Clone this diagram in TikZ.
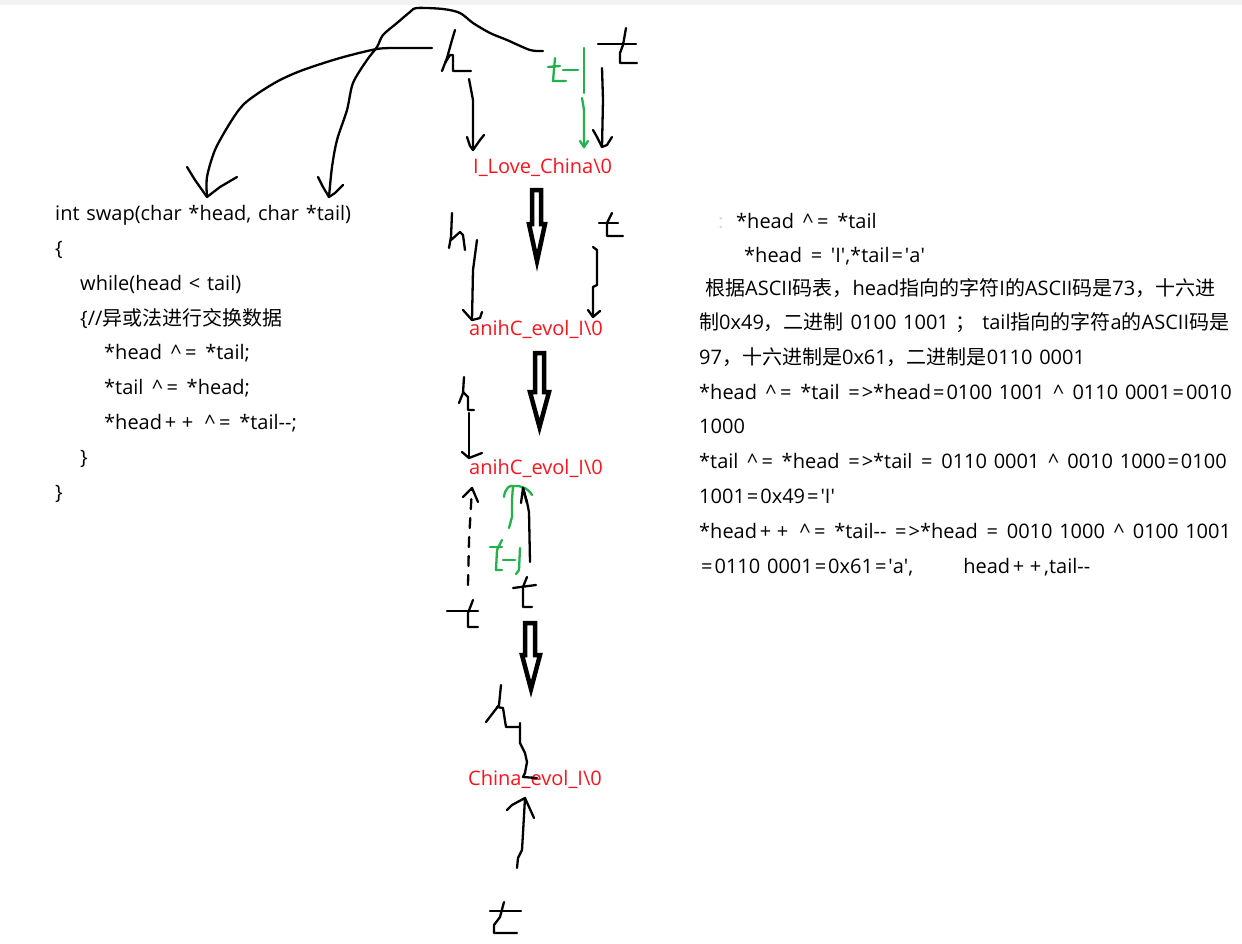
\documentclass[tikz,border=0pt]{standalone}
\usepackage{fontspec}
\setmainfont{Open Sans}
\newfontfamily\cjk{Noto Sans CJK SC}
\definecolor{pgreen}{RGB}{34,177,76}
\definecolor{pred}{RGB}{250,20,30}
\newcommand\q{\textquotesingle}
\newcommand\ca{\makebox[14.4pt][c]{\textasciicircum}}
\newcommand\eq{\makebox[15.4pt][c]{=}}
\newcommand\pl{\makebox[17pt][c]{+}}
\newcommand\txtfont{\fontsize{20}{24}\selectfont\spaceskip 6.7pt\relax}
\begin{document}
\begin{tikzpicture}[x=1pt,y=-1pt,
  hand/.style={line width=2.3pt,line join=round,line cap=round},
  bigarr/.style={line width=4.5pt,line join=miter,fill=white},
  txt/.style={anchor=base west,inner sep=0pt,font=\txtfont},
  lbl/.style={txt,text=pred}]
\useasboundingbox (0,0) rectangle (1242,943);
\fill[gray!10] (0,0) rectangle (1242,5);

% ---- code text
\node[txt] (c1) at (55,220) {int swap(char *head, char *tail)};
\node[txt] (c2) at (55,255) {\{};
\node[txt] (c3) at (80,290) {while(head < tail)};
\node[txt] (c4) at (80,325) {\{//{\cjk 异或法进行交换数据}};
\node[txt] (c5) at (104,359) {*head \ca\eq{} *tail;};
\node[txt] (c6) at (104,394) {*tail \ca\eq{} *head;};
\node[txt] (c7) at (104,429) {*head\pl\pl{} \ca\eq{} *tail-{}-;};
\node[txt] (c8) at (80,464) {\}};
\node[txt] (c9) at (55,499) {\}};

% ---- red labels
\node[lbl] (s1) at (473,173) {I\_Love\_China\textbackslash 0};
\node[lbl] (s2) at (469,335) {anihC\_evol\_I\textbackslash 0};
\node[lbl] (s3) at (469,474) {anihC\_evol\_I\textbackslash 0};
\node[lbl] (s4) at (468,785) {China\_evol\_I\textbackslash 0};

% ---- right text
\node[txt,text=gray!30] (r0) at (718,228) {:};
\node[txt] (r1) at (736,228) {*head \ca\eq{} *tail};
\node[txt] (r2) at (744,262) {*head \eq{} \q I\q,*tail\eq\q a\q};
\node[txt] (r3) at (705,295) {{\cjk 根据}ASCII{\cjk 码表，}head{\cjk 指向的字符}I{\cjk 的}ASCII{\cjk 码是}73{\cjk ，十六进}};
\node[txt] (r4) at (699,329) {{\cjk 制}0x49{\cjk ，二进制} 0100 1001 {\cjk ；} tail{\cjk 指向的字符}a{\cjk 的}ASCII{\cjk 码是}};
\node[txt] (r5) at (699,364) {97{\cjk ，十六进制是}0x61{\cjk ，二进制是}0110 0001};
\node[txt] (r6) at (699,399) {*head \ca\eq{} *tail \eq>*head\eq 0100 1001 \ca{} 0110 0001\eq 0010};
\node[txt] (r7) at (699,433) {1000};
\node[txt] (r8) at (699,468) {*tail \ca\eq{} *head \eq>*tail \eq{} 0110 0001 \ca{} 0010 1000\eq 0100};
\node[txt] (r9) at (699,503) {1001\eq 0x49\eq\q I\q};
\node[txt] (r10) at (699,538) {*head\pl\pl{} \ca\eq{} *tail-{}- \eq>*head \eq{} 0010 1000 \ca{} 0100 1001};
\node[txt] (r11) at (699,573) {\eq 0110 0001\eq 0x61\eq\q a\q,\hspace{50pt}head\pl\pl,tail-{}-};

% ---- big hollow arrows
\draw[bigarr] (532,190) -- (532,224) -- (529,224) -- (537,261) -- (545,224) -- (541,224) -- (541,190) -- cycle;
\draw[bigarr] (535,353) -- (535,392) -- (530,392) -- (539.5,427) -- (549,392) -- (544,392) -- (544,353) -- cycle;
\draw[bigarr] (525,623) -- (525,655) -- (522,655) -- (531,689) -- (540,655) -- (535,655) -- (535,623) -- cycle;

% ---- top: pointers to parameters
\coordinate (ph) at (207,197);
\coordinate (pt) at (329,197);
\draw[hand] plot[smooth,tension=0.5] coordinates {(432,48) (400,48) (377,49) (340,58) (303,70) (280,80) (260,92) (243,105) (230,123) (215,150) (207,177) (ph)};
\draw[hand] (187,167) -- (195,180) -- (ph) -- (220,187) -- (237,177);
\draw[hand] plot[smooth,tension=0.5] coordinates {(543,51) (530,50) (507,40) (490,33) (473,23) (460,13) (443,9) (417,8) (410,12) (397,23) (383,35) (377,47) (367,60) (353,83) (347,110) (337,140) (332,167) (pt)};
\draw[hand] (318,177) -- (323,187) -- (pt) -- (335,193) -- (343,185);

% top h
\draw[hand] (455,30) -- (452,40) -- (447,58) -- (442,71);
\draw[hand] (445,63) -- (450,55) -- (453,55) -- (453,71) -- (471,71);
\coordinate (a1) at (473,150);
\draw[hand] (469,79) -- (473,100) -- (a1);
\draw[hand] (467,137) -- (470,146) -- (a1) -- (480,140) -- (484,135);
% green t-1 top
\draw[hand,pgreen] (555,58) -- (553,81) -- (566,81);
\draw[hand,pgreen] (548,67) -- (560,66);
\draw[hand,pgreen] (563,70) -- (578,70);
\draw[hand,pgreen] (584,48) -- (584,93);
\coordinate (a2) at (584,147);
\draw[hand,pgreen] (582,98) -- (584,110) -- (a2);
\draw[hand,pgreen] (580,141) -- (a2) -- (588,141);
% black t top
\draw[hand] (626,28) -- (623,45) -- (620,53) -- (620,63) -- (637,63);
\draw[hand] (598,44) -- (636,44);
\coordinate (a3) at (602,147);
\draw[hand] (602,68) -- (603,100) -- (a3);
\draw[hand] (593,130) -- (597,137) -- (a3) -- (607,145) -- (612,137);

% ---- second row
\draw[hand] (452,213) -- (451,237) -- (449,248);
\draw[hand] (451,240) -- (460,232) -- (463,235) -- (465,250);
\coordinate (a4) at (472,320);
\draw[hand] (477,240) -- (473,270) -- (a4);
\draw[hand] (463,310) -- (a4) -- (480,318) -- (482,312);
\draw[hand] (612,213) -- (607,223) -- (607,236) -- (623,236);
\draw[hand] (599,223) -- (618,223);
\coordinate (a5) at (593,317);
\draw[hand] (593,247) -- (597,250) -- (597,285) -- (593,287) -- (a5);
\draw[hand] (588,310) -- (a5) -- (600,311);

% ---- third row
\draw[hand] (464,377) -- (463,393) -- (459,403);
\draw[hand] (463,392) -- (468,397) -- (468,410) -- (474,410);
\coordinate (a6) at (469,458);
\draw[hand] (469,413) -- (a6);
\draw[hand] (462,452) -- (a6) -- (482,453);

% dashed up arrow
\coordinate (a7) at (472,488);
\draw[hand,dash pattern=on 10pt off 9pt] (468,585) -- (469,540) -- (a7);
\draw[hand] (463,497) -- (a7) -- (478,502);
\draw[hand] (473,600) -- (468,613) -- (468,627) -- (478,627);
\draw[hand] (447,611) -- (478,611);

% green arrow up + t-1
\coordinate (a8) at (513,486);
\draw[hand,pgreen] (509,528) -- (512,517) -- (512,500) -- (a8);
\draw[hand,pgreen] (504,497) .. controls (505,488) and (510,485) .. (a8) .. controls (520,485) and (528,488) .. (532,495);
\draw[hand,pgreen] (502,540) -- (497,550) -- (496,570) -- (502,570);
\draw[hand,pgreen] (490,547) -- (502,547);
\draw[hand,pgreen] (503,560) -- (515,560);
\draw[hand,pgreen] (520,548) -- (519,570) -- (516,574);

% black arrow up + t
\coordinate (a9) at (523,488);
\draw[hand] (530,562) -- (529,512) -- (527,502) -- (a9);
\draw[hand] (521,503) -- (a9) -- (527,503);
\draw[hand] (527,577) -- (523,587) -- (523,607) -- (532,607);
\draw[hand] (513,588) -- (536,585);

% ---- fourth row
\draw[hand] (501,685) -- (499,705) -- (486,722);
\draw[hand] (497,707) -- (503,708) -- (506,727) -- (520,727);
\draw[hand] (520,723) -- (520,743) -- (525,753) -- (527,762) -- (525,773) -- (523,777) -- (537,778);
\coordinate (a10) at (525,798);
\draw[hand] (517,868) -- (518,858) -- (522,850) -- (523,833) -- (a10);
\draw[hand] (507,810) -- (512,805) -- (a10) -- (534,818);
\draw[hand] (504,902) -- (500,917) -- (494,925) -- (494,933) -- (517,933);
\draw[hand] (490,911) -- (521,911);
\end{tikzpicture}
\end{document}
